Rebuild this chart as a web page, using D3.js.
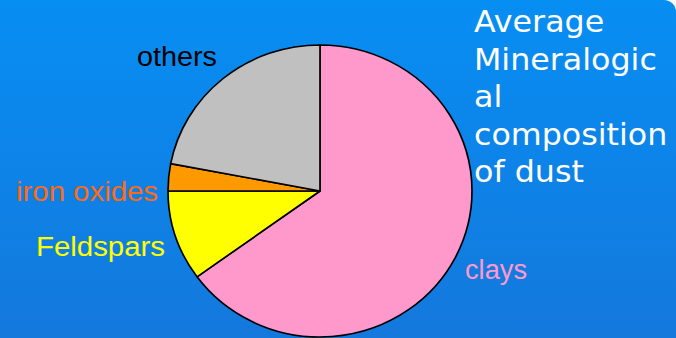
<!DOCTYPE html>
<html>
<head>
<meta charset="utf-8">
<script src="https://cdn.jsdelivr.net/npm/d3@7"></script>
<style>
  html, body { margin: 0; padding: 0; background: #ffffff; }
  svg { display: block; }
</style>
</head>
<body>
<svg id="chart" width="676" height="338"></svg>
<script>
// Data
const categories = ["clays", "Feldspars", "iron oxides", "others"];
const values = [65, 10, 3, 22];
const sliceColors = ["#ff99cc", "#ffff00", "#ff9900", "#c0c0c0"];
const labelColors = ["#ff99cc", "#ffff00", "#ff6a13", "#000000"];
const titleLines = ["Average", "Mineralogic", "al", "composition", "of dust"];

const W = 676, H = 338;
const svg = d3.select("#chart");

// background gradient
const defs = svg.append("defs");
const grad = defs.append("linearGradient").attr("id", "bg")
  .attr("x1", 0).attr("y1", 0).attr("x2", 0).attr("y2", 1);
grad.append("stop").attr("offset", "0%").attr("stop-color", "#078ef3");
grad.append("stop").attr("offset", "100%").attr("stop-color", "#1478dc");

const rc = 12;
svg.append("path")
  .attr("d", `M0,0 H${W - rc} A${rc},${rc} 0 0 1 ${W},${rc} V${H} H0 Z`)
  .attr("fill", "url(#bg)");

// pie
const cx = 320, cy = 191, ry = 146, rx = 152;
const pie = d3.pie().sort(null).value(d => d)(values);
const arc = d3.arc().innerRadius(0).outerRadius(ry);

const g = svg.append("g")
  .attr("transform", `translate(${cx},${cy}) scale(${rx / ry},1)`);
g.selectAll("path.slice")
  .data(pie)
  .join("path")
  .attr("class", "slice")
  .attr("d", arc)
  .attr("fill", (d, i) => sliceColors[i])
  .attr("stroke", "#000")
  .attr("stroke-width", 1.6)
  .attr("stroke-linejoin", "round");

// labels
const labelPos = [
  { x: 465, y: 279, w: 62 },   // clays
  { x: 36, y: 256, w: 129 },   // Feldspars
  { x: 16, y: 201, w: 142 },   // iron oxides
  { x: 137, y: 66, w: 80 }     // others
];
svg.selectAll("text.lbl")
  .data(categories)
  .join("text")
  .attr("class", "lbl")
  .attr("x", (d, i) => labelPos[i].x)
  .attr("y", (d, i) => labelPos[i].y)
  .attr("textLength", (d, i) => labelPos[i].w)
  .attr("lengthAdjust", "spacingAndGlyphs")
  .attr("font-family", "'Liberation Sans', Arial, sans-serif")
  .attr("font-size", 27)
  .attr("fill", (d, i) => labelColors[i])
  .text(d => d);

// title
svg.selectAll("text.title")
  .data(titleLines)
  .join("text")
  .attr("class", "title")
  .attr("transform", (d, i) => `translate(474,${32 + i * 37.5}) scale(1.04,1)`)
  .attr("font-family", "'DejaVu Sans', sans-serif")
  .attr("font-size", 30.5)
  .attr("fill", "#ffffff")
  .text(d => d);
</script>
</body>
</html>
